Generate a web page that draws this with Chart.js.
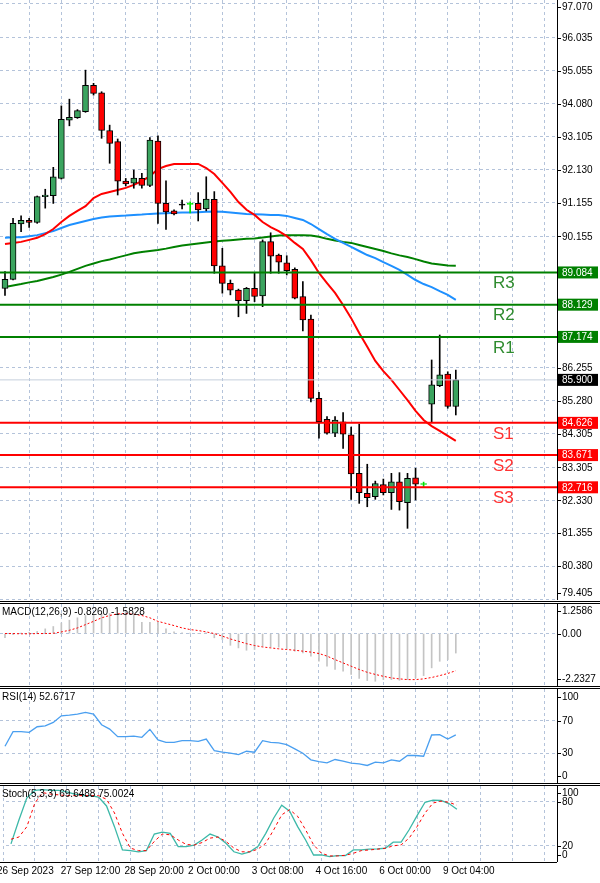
<!DOCTYPE html>
<html><head><meta charset="utf-8">
<script src="https://cdn.jsdelivr.net/npm/chart.js@4.4.0/dist/chart.umd.min.js"></script>
<style>
html,body{margin:0;padding:0;background:#fff;width:600px;height:883px;overflow:hidden;position:relative}
canvas{position:absolute;left:0}
.sep{position:absolute;left:0;width:600px;height:1px;background:#000}
</style></head><body>
<canvas id="cMain" width="600" height="600" style="top:0"></canvas>
<canvas id="cMacd" width="600" height="82" style="top:604px"></canvas>
<canvas id="cRsi" width="600" height="94" style="top:689px"></canvas>
<canvas id="cSto" width="600" height="97" style="top:786px"></canvas>
<div class="sep" style="top:601px"></div><div class="sep" style="top:603px"></div>
<div class="sep" style="top:686px"></div><div class="sep" style="top:688px"></div>
<div class="sep" style="top:783px"></div><div class="sep" style="top:785px"></div>
<div class="sep" style="top:862px;width:557px"></div>
<script>
// ---------- data ----------
const xLabels = {"-1":"26 Sep 2023","7":"27 Sep 12:00","15":"28 Sep 20:00","23":"2 Oct 00:00","31":"3 Oct 08:00","39":"4 Oct 16:00","47":"6 Oct 00:00","55":"9 Oct 04:00"};
const openP  = [88.61,88.88,90.52,90.63,90.57,91.33,91.36,91.87,93.60,93.67,93.85,94.63,94.41,93.29,92.96,91.79,91.73,91.87,91.66,92.98,91.13,90.91,91.10,91.10,91.13,90.97,91.25,89.28,88.76,88.56,88.25,88.61,88.39,90.00,89.60,89.37,89.18,88.37,87.70,85.35,84.73,84.32,84.66,84.27,83.13,82.54,82.44,82.80,82.56,82.88,82.26,83.00,82.80,85.18,85.73,86.07,85.11];
const highP  = [89.11,90.69,90.76,90.69,91.35,91.55,92.20,94.02,94.22,93.91,95.08,94.69,94.44,93.45,93.04,91.87,92.12,92.02,93.08,93.13,91.80,90.94,91.23,91.18,91.45,91.92,91.48,89.80,88.86,88.59,88.64,89.06,90.05,90.26,89.63,89.58,89.22,88.81,87.82,85.53,84.81,84.81,84.93,84.50,84.59,83.40,82.90,82.96,83.13,83.15,83.13,83.28,82.87,86.49,87.23,86.14,86.19];
const lowP   = [88.40,88.86,90.29,90.42,90.54,90.99,91.13,91.85,93.43,93.65,93.83,94.34,93.06,92.32,91.38,91.65,91.58,91.58,91.63,90.54,90.36,90.79,90.97,90.85,90.61,90.91,89.06,88.47,88.42,87.77,87.87,88.22,88.07,89.06,89.06,89.01,88.30,87.35,85.25,84.17,84.29,84.22,83.87,82.36,82.24,82.14,82.36,82.49,82.06,82.04,81.50,82.34,82.73,84.66,85.70,85.06,84.86];
const closeP = [88.88,90.54,90.63,90.57,91.33,91.38,91.92,93.62,93.68,93.88,94.63,94.39,93.29,92.91,91.79,91.71,91.88,91.66,93.01,91.13,90.88,90.82,91.08,91.11,90.94,91.26,89.28,88.76,88.56,88.25,88.61,88.37,90.00,89.57,89.39,89.14,88.32,87.68,85.35,84.66,84.32,84.71,84.29,83.11,82.56,82.41,82.83,82.56,82.88,82.29,82.98,82.81,82.81,85.75,86.05,85.11,85.90];
const maRed   = [89.93,89.96,89.99,90.05,90.11,90.22,90.37,90.58,90.76,90.91,91.05,91.29,91.41,91.47,91.53,91.59,91.68,91.79,91.94,92.15,92.24,92.30,92.30,92.30,92.30,92.18,92.00,91.74,91.47,91.17,90.94,90.79,90.58,90.43,90.31,90.16,89.96,89.78,89.45,89.07,88.77,88.48,88.12,87.73,87.29,86.88,86.46,86.16,85.90,85.60,85.30,84.98,84.71,84.53,84.39,84.24,84.09];
const maBlue  = [90.11,90.13,90.13,90.16,90.19,90.25,90.31,90.40,90.49,90.55,90.61,90.67,90.71,90.74,90.76,90.77,90.79,90.80,90.82,90.83,90.84,90.85,90.86,90.86,90.87,90.88,90.89,90.88,90.86,90.84,90.82,90.81,90.80,90.79,90.79,90.76,90.70,90.64,90.52,90.37,90.22,90.08,89.96,89.84,89.72,89.60,89.51,89.39,89.28,89.16,89.01,88.86,88.74,88.65,88.53,88.42,88.27];
const maGreen = [88.65,88.70,88.74,88.79,88.83,88.89,88.95,89.02,89.10,89.19,89.28,89.35,89.42,89.47,89.53,89.59,89.65,89.69,89.72,89.75,89.79,89.84,89.88,89.91,89.94,89.97,90.00,90.02,90.04,90.06,90.08,90.09,90.12,90.15,90.18,90.19,90.19,90.19,90.18,90.14,90.08,90.03,89.99,89.96,89.90,89.84,89.78,89.72,89.65,89.59,89.54,89.48,89.41,89.35,89.32,89.29,89.28];
const resLevels = [89.084,88.129,87.174];
const resNames = ["R3","R2","R1"];
const supLevels = [84.626,83.671,82.716];
const supNames = ["S1","S2","S3"];
const lastPrice = 85.900;
const mainTicks = [97.070,96.035,95.055,94.080,93.105,92.130,91.155,90.155,86.255,85.280,84.305,83.305,82.330,81.355,80.380,79.405];
const macdMain = [-0.18,-0.05,0.02,0.05,0.09,0.2,0.3,0.45,0.57,0.67,0.77,0.81,0.85,0.85,0.85,0.88,0.85,0.48,0.48,0.48,0.2,0.07,0.03,0.01,0.0,0.03,-0.18,-0.25,-0.5,-0.61,-0.71,-0.68,-0.54,-0.57,-0.58,-0.65,-0.75,-0.82,-0.96,-1.18,-1.39,-1.53,-1.6,-1.74,-1.91,-2.0,-2.03,-1.96,-1.96,-1.99,-1.96,-1.89,-1.79,-1.46,-1.18,-1.11,-0.83];
const macdSignal = [0,0,-0.01,-0.01,0,0,0.01,0.07,0.14,0.24,0.38,0.52,0.67,0.77,0.84,0.85,0.82,0.77,0.67,0.52,0.43,0.34,0.24,0.17,0.13,0.07,0,-0.11,-0.23,-0.33,-0.43,-0.51,-0.57,-0.61,-0.65,-0.68,-0.71,-0.75,-0.79,-0.85,-0.96,-1.11,-1.25,-1.39,-1.53,-1.65,-1.74,-1.82,-1.89,-1.93,-1.96,-1.96,-1.93,-1.87,-1.79,-1.70,-1.58];
const macdTicks = [1.2586,0,-2.2327];
const rsiVals = [38.4,56.6,56.6,55.8,62.8,64,68.2,76.4,77.3,78.5,80.6,78.5,65.3,59.9,50.4,50.4,51.2,49.6,59.5,46.3,43.4,43.4,45.5,45.5,44.6,47.5,33,31,29.8,28.1,32.2,31,45.5,43.4,42.6,40.5,35.1,29.8,21.5,19.4,17.8,21.9,19.8,17.4,16.5,14.5,18.6,17.8,21.5,19.8,26.9,26.9,26,52.5,52.9,47.5,52.7];
const rsiTicks = [100,70,30,0];
const stochK = [22.7,55,85,95,96,95,95,93,90,88,88,86,74,46,14.5,13.6,12,13.6,36,38.6,37,19,19,21,28,36,32,23.6,12,9,12,19,37,57.7,75,67,46,28,7.7,7.7,5.5,6.8,6.8,14.5,14.5,15.5,16,16.8,25,25,41.8,61,79,81.8,81.4,77.3,69.6];
const stochD = [29,32,46,78,92,90,89,88,88,88,88,88,83,64.5,37,17,13.6,13.6,26,36,35,28,22,21,24.5,30.5,32,26,17,12,12,15.5,23.6,41.8,62,69,60,41.8,21.4,10,6.4,6.4,7.3,10,13.6,14.5,15.5,16.8,20,21.4,30.5,46,64.5,78,80.5,79,75];
const stochTicks = [100,80,20,0];

// ---------- helpers ----------
const XMIN = -0.62, XMAX = 68.57;
const FONT = '10px "Liberation Sans", Arial, sans-serif';
const GRID = '#b4c3da';
const idx = openP.map((_, i) => i);
const xTickVals = []; for (let v = -1; v <= 67; v += 4) xTickVals.push(v);
function xScale(showLabels) {
  return {
    type: 'linear', min: XMIN, max: XMAX, offset: false,
    afterBuildTicks: s => { s.ticks = xTickVals.map(v => ({ value: v })); },
    afterFit: s => { s.height = showLabels ? 21 : 0; },
    grid: { color: GRID, drawTicks: false, offset: false },
    border: { display: false, dash: [3, 3] },
    ticks: { display: showLabels, autoSkip: false, maxRotation: 0, align: 'start', padding: 3, labelOffset: -6,
      color: '#000', font: { family: '"Liberation Sans", Arial, sans-serif', size: 10 },
      callback: v => xLabels[String(v)] || '' }
  };
}
function yScale(min, max, gridVals) {
  return {
    position: 'right', min, max,
    afterBuildTicks: s => { s.ticks = gridVals.map(v => ({ value: v })); },
    afterFit: s => { s.width = 43; },
    grid: { color: GRID, drawTicks: false },
    border: { display: false, dash: [3, 3] },
    ticks: { display: false }
  };
}
const labelPlugin = {
  id: 'sideLabels',
  afterDraw(chart, args, opts) {
    const ctx = chart.ctx, ys = chart.scales.y, area = chart.chartArea;
    ctx.save();
    ctx.setLineDash([]);
    ctx.strokeStyle = '#000'; ctx.lineWidth = 1;
    ctx.beginPath(); ctx.moveTo(Math.round(area.right) + 0.5, area.top); ctx.lineTo(Math.round(area.right) + 0.5, area.bottom); ctx.stroke();
    ctx.font = FONT; ctx.textBaseline = 'middle';
    (opts.items || []).forEach(it => {
      let y = ys.getPixelForValue(it.v);
      y = Math.max(area.top + 7, Math.min(area.bottom - 7, y));
      if (it.bg) {
        ctx.fillStyle = it.bg; ctx.fillRect(558, y - 6, 40, 12);
        ctx.fillStyle = '#fff';
      } else {
        ctx.beginPath(); ctx.moveTo(557, Math.round(y) + 0.5); ctx.lineTo(561, Math.round(y) + 0.5); ctx.stroke();
        ctx.fillStyle = '#000';
      }
      ctx.textAlign = 'left';
      ctx.fillText(it.t, 562, y + 0.5);
    });
    (opts.levelTexts || []).forEach(it => {
      const y = ys.getPixelForValue(it.v);
      ctx.font = '17px "Liberation Sans", Arial, sans-serif';
      ctx.fillStyle = it.c; ctx.textAlign = 'left';
      ctx.fillText(it.t, 493, y + 11);
    });
    if (opts.title) {
      ctx.font = FONT; ctx.fillStyle = '#000'; ctx.textAlign = 'left';
      ctx.fillText(opts.title, 2, area.top + 8);
    }
    ctx.restore();
  }
};
Chart.register(labelPlugin);
const base = { responsive: false, animation: false, devicePixelRatio: 1,
  layout: { padding: 0 }, events: [],
  plugins: { legend: { display: false }, tooltip: { enabled: false } } };

// ---------- main chart ----------
const bodyColor = idx.map(i => (i === 23 || i === 52) ? '#00ff00' : (i === 22 ? '#000' : (closeP[i] >= openP[i] ? '#3ba45f' : '#ff0000')));
const wickColor = idx.map(i => (i === 23 || i === 52) ? '#00dd00' : '#000');
const lvlLine = (v, c, w) => ({ type: 'line', data: [{ x: XMIN, y: v }, { x: XMAX, y: v }], borderColor: c, borderWidth: w, pointRadius: 0, order: 0 });
const mainItems = mainTicks.map(v => ({ v, t: v.toFixed(3) }))
  .concat(resLevels.map(v => ({ v, t: v.toFixed(3), bg: '#008000' })))
  .concat(supLevels.map(v => ({ v, t: v.toFixed(3), bg: '#ff0000' })))
  .concat([{ v: lastPrice, t: lastPrice.toFixed(3), bg: '#000' }]);
new Chart(document.getElementById('cMain'), {
  data: { datasets: [
    ...resLevels.map(v => lvlLine(v, '#008000', 2)),
    ...supLevels.map(v => lvlLine(v, '#ff0000', 2)),
    lvlLine(lastPrice, '#c5cfdc', 1),
    { type: 'bar', data: idx.map(i => ({ x: i, y: [lowP[i], highP[i]] })), backgroundColor: wickColor, barThickness: 1, grouped: false, order: 2 },
    { type: 'bar', data: idx.map(i => ({ x: i, y: [openP[i], closeP[i]] })), backgroundColor: bodyColor,
      borderColor: idx.map(i => (i === 23 || i === 52) ? '#00dd00' : '#000'), borderWidth: 1, borderSkipped: false, barThickness: 6, minBarLength: 1, grouped: false, order: 1 },
    { type: 'line', data: idx.map(i => ({ x: i, y: maRed[i] })), borderColor: '#ff0000', borderWidth: 2, pointRadius: 0, order: 3 },
    { type: 'line', data: idx.map(i => ({ x: i, y: maBlue[i] })), borderColor: '#1e90ff', borderWidth: 2, pointRadius: 0, order: 3 },
    { type: 'line', data: idx.map(i => ({ x: i, y: maGreen[i] })), borderColor: '#008000', borderWidth: 2, pointRadius: 0, order: 3 }
  ] },
  options: { ...base,
    scales: { x: xScale(false), y: yScale(79.376, 97.159, mainTicks) },
    plugins: { ...base.plugins, sideLabels: { items: mainItems,
      levelTexts: resLevels.map((v, k) => ({ v, t: resNames[k], c: '#2e8b2e' })).concat(supLevels.map((v, k) => ({ v, t: supNames[k], c: '#ff3333' }))) } } }
});

// ---------- MACD ----------
new Chart(document.getElementById('cMacd'), {
  data: { datasets: [
    { type: 'line', data: idx.map(i => ({ x: i, y: macdSignal[i] })), borderColor: '#ff0000', borderWidth: 1, borderDash: [2, 2], pointRadius: 0, order: 0 },
    { type: 'bar', data: idx.map(i => ({ x: i, y: macdMain[i] })), backgroundColor: '#c4c4c4', barThickness: 1, order: 1 }
  ] },
  options: { ...base,
    scales: { x: xScale(false), y: yScale(-2.2327, 1.2586, [0]) },
    plugins: { ...base.plugins, sideLabels: { items: macdTicks.map(v => ({ v, t: v === 0 ? '0.00' : v.toFixed(4) })), title: 'MACD(12,26,9) -0.8260 -1.5828' } } }
});

// ---------- RSI ----------
new Chart(document.getElementById('cRsi'), {
  data: { datasets: [
    { type: 'line', data: idx.map(i => ({ x: i, y: rsiVals[i] })), borderColor: '#4a9ff0', borderWidth: 1.3, pointRadius: 0 }
  ] },
  options: { ...base,
    scales: { x: xScale(false), y: yScale(-7.4, 109.9, [70, 30]) },
    plugins: { ...base.plugins, sideLabels: { items: rsiTicks.map(v => ({ v, t: String(v) })), title: 'RSI(14) 52.6717' } } }
});

// ---------- Stochastic ----------
new Chart(document.getElementById('cSto'), {
  data: { datasets: [
    { type: 'line', data: idx.map(i => ({ x: i, y: stochD[i] })), borderColor: '#ff0000', borderWidth: 1, borderDash: [3, 3], pointRadius: 0 },
    { type: 'line', data: idx.map(i => ({ x: i, y: stochK[i] })), borderColor: '#3cb8a8', borderWidth: 1.3, pointRadius: 0 }
  ] },
  options: { ...base,
    scales: { x: xScale(true), y: yScale(-1.8, 101, [80, 20]) },
    plugins: { ...base.plugins, sideLabels: { items: stochTicks.map(v => ({ v, t: String(v) })), title: 'Stoch(5,3,3) 69.6488 75.0024' } } }
});
</script>
</body></html>
